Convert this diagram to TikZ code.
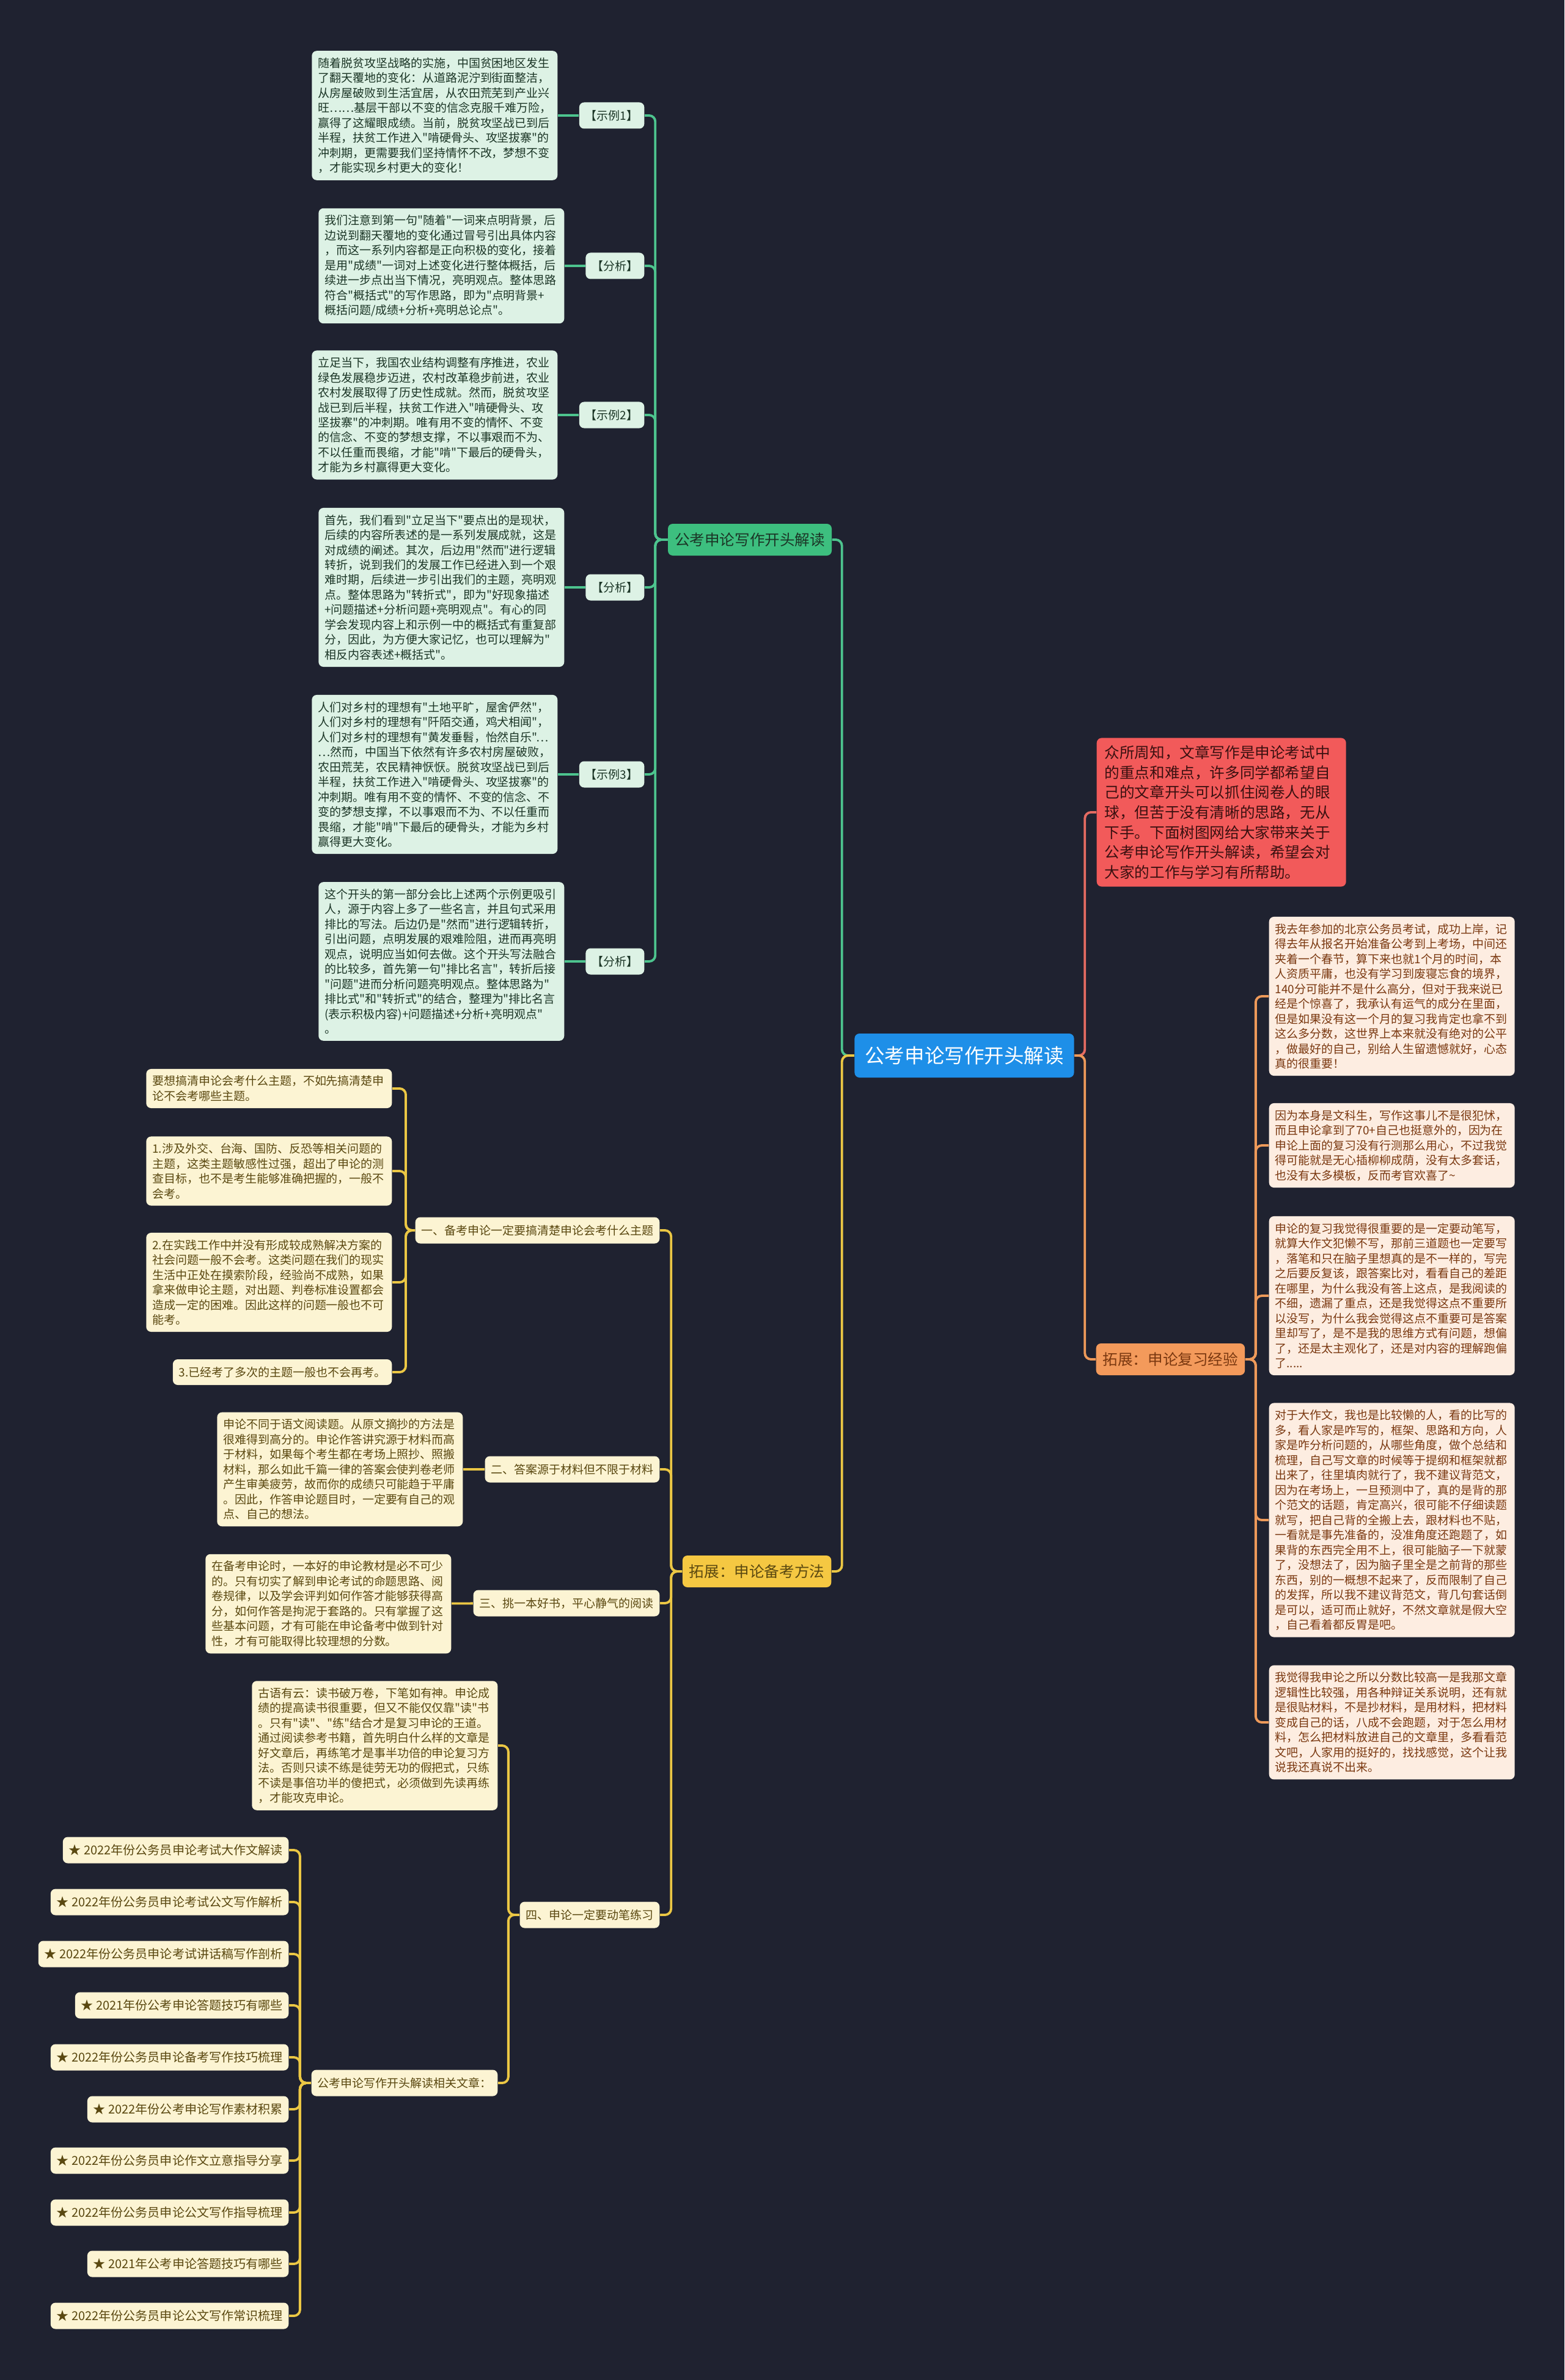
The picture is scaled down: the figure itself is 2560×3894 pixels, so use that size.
\documentclass[tikz,border=0pt]{standalone}
\usepackage{fontspec}
\newfontfamily\cjk{Noto Sans CJK SC}
\usepackage{tikz}
\usetikzlibrary{positioning}
\definecolor{bgnavy}{HTML}{1F2230}
\definecolor{rootblue}{HTML}{1E8FE8}
\definecolor{gfill}{HTML}{3DBF7F}
\definecolor{gline}{HTML}{4DC48E}
\definecolor{gleaffill}{HTML}{DDF2E5}
\definecolor{gink}{HTML}{1B3526}
\definecolor{rfill}{HTML}{F25A5A}
\definecolor{rline}{HTML}{E46B62}
\definecolor{rink}{HTML}{3A1010}
\definecolor{ofill}{HTML}{F39A5B}
\definecolor{oline}{HTML}{EE9A5A}
\definecolor{oleaffill}{HTML}{FDEDE1}
\definecolor{oink}{HTML}{7A3810}
\definecolor{yfill}{HTML}{F5C842}
\definecolor{yline}{HTML}{EBC744}
\definecolor{yleaffill}{HTML}{FCF4D3}
\definecolor{yink}{HTML}{5A4810}
\newcommand{\leaffont}{\cjk\fontsize{5.4pt}{6.97pt}\selectfont}
\newcommand{\itemfont}{\cjk\fontsize{5.7pt}{7pt}\selectfont}
\newcommand{\branchfont}{\cjk\fontsize{7pt}{9.3pt}\selectfont}
\newcommand{\rootfont}{\cjk\fontsize{9.25pt}{11pt}\selectfont}
\tikzset{
  base/.style={rounded corners=0.8mm,align=left,inner xsep=1mm,inner ysep=1.1mm},
  para/.style={base,text width=38.2mm,font=\leaffont},
  tagbox/.style={base,align=center,minimum height=4.3mm,inner ysep=0.5mm,font=\leaffont},
  rootbox/.style={base,align=center,fill=rootblue,text=white,font=\rootfont,
                  inner xsep=1.7mm,minimum height=7.2mm},
  branch/.style={base,align=center,font=\branchfont,minimum height=5.2mm,inner xsep=1.1mm},
  gleaf/.style={para,fill=gleaffill,text=gink},
  gtag/.style={tagbox,fill=gleaffill,text=gink},
  oleaf/.style={para,fill=oleaffill,text=oink},
  yleaf/.style={para,fill=yleaffill,text=yink},
  ytag/.style={tagbox,fill=yleaffill,text=yink},
  yitem/.style={ytag,font=\itemfont},
  intro/.style={base,fill=rfill,text=rink,text width=38.2mm,font=\branchfont,
                inner xsep=1.3mm,inner ysep=1.2mm},
  glink/.style={draw=gline,line width=1.1pt,rounded corners=1mm},
  rlink/.style={draw=rline,line width=1.1pt,rounded corners=1mm},
  olink/.style={draw=oline,line width=1.1pt,rounded corners=1mm},
  ylink/.style={draw=yline,line width=1.1pt,rounded corners=1mm}
}
\begin{document}
\begin{tikzpicture}[x=0.1mm,y=-0.1mm]
  \fill[bgnavy] (0,0) rectangle (2560,3894);
  \useasboundingbox (0,0) rectangle (2560,3894);

  \node[rootbox] (root) at (1578,1727) {公考申论写作开头解读};

  \node[branch,fill=gfill,text=gink] (open) at (1227,883) {公考申论写作开头解读};
  \node[intro,anchor=west] (intro) at (1794,1329) {众所周知，文章写作是申论考试中\\的重点和难点，许多同学都希望自\\己的文章开头可以抓住阅卷人的眼\\球，但苦于没有清晰的思路，无从\\下手。下面树图网给大家带来关于\\公考申论写作开头解读，希望会对\\大家的工作与学习有所帮助。};
  \node[branch,fill=ofill,text=oink,anchor=west] (review) at (1793,2224) {拓展：申论复习经验};
  \node[branch,fill=yfill,text=yink,anchor=east] (prep) at (1361,2571) {拓展：申论备考方法};

  \node[gtag,anchor=east] (ex1) at (1055,189) {【示例1】};
  \node[gtag,anchor=east] (an1) at (1055,435) {【分析】};
  \node[gtag,anchor=east] (ex2) at (1055,679) {【示例2】};
  \node[gtag,anchor=east] (an2) at (1055,961) {【分析】};
  \node[gtag,anchor=east] (ex3) at (1055,1267) {【示例3】};
  \node[gtag,anchor=east] (an3) at (1055,1573) {【分析】};

  \node[gleaf,anchor=east] (ex1txt) at (913,189) {随着脱贫攻坚战略的实施，中国贫困地区发生\\了翻天覆地的变化：从道路泥泞到街面整洁，\\从房屋破败到生活宜居，从农田荒芜到产业兴\\旺……基层干部以不变的信念克服千难万险，\\赢得了这耀眼成绩。当前，脱贫攻坚战已到后\\半程，扶贫工作进入"啃硬骨头、攻坚拔寨"的\\冲刺期，更需要我们坚持情怀不改，梦想不变\\，才能实现乡村更大的变化！};
  \node[gleaf,anchor=east] (an1txt) at (924,435) {我们注意到第一句"随着"一词来点明背景，后\\边说到翻天覆地的变化通过冒号引出具体内容\\，而这一系列内容都是正向积极的变化，接着\\是用"成绩"一词对上述变化进行整体概括，后\\续进一步点出当下情况，亮明观点。整体思路\\符合"概括式"的写作思路，即为"点明背景+\\概括问题/成绩+分析+亮明总论点"。};
  \node[gleaf,anchor=east] (ex2txt) at (913,679) {立足当下，我国农业结构调整有序推进，农业\\绿色发展稳步迈进，农村改革稳步前进，农业\\农村发展取得了历史性成就。然而，脱贫攻坚\\战已到后半程，扶贫工作进入"啃硬骨头、攻\\坚拔寨"的冲刺期。唯有用不变的情怀、不变\\的信念、不变的梦想支撑，不以事艰而不为、\\不以任重而畏缩，才能"啃"下最后的硬骨头，\\才能为乡村赢得更大变化。};
  \node[gleaf,anchor=east] (an2txt) at (924,961) {首先，我们看到"立足当下"要点出的是现状，\\后续的内容所表述的是一系列发展成就，这是\\对成绩的阐述。其次，后边用"然而"进行逻辑\\转折，说到我们的发展工作已经进入到一个艰\\难时期，后续进一步引出我们的主题，亮明观\\点。整体思路为"转折式"，即为"好现象描述\\+问题描述+分析问题+亮明观点"。有心的同\\学会发现内容上和示例一中的概括式有重复部\\分，因此，为方便大家记忆，也可以理解为"\\相反内容表述+概括式"。};
  \node[gleaf,anchor=east] (ex3txt) at (913,1267) {人们对乡村的理想有"土地平旷，屋舍俨然"，\\人们对乡村的理想有"阡陌交通，鸡犬相闻"，\\人们对乡村的理想有"黄发垂髫，怡然自乐"…\\…然而，中国当下依然有许多农村房屋破败，\\农田荒芜，农民精神恹恹。脱贫攻坚战已到后\\半程，扶贫工作进入"啃硬骨头、攻坚拔寨"的\\冲刺期。唯有用不变的情怀、不变的信念、不\\变的梦想支撑，不以事艰而不为、不以任重而\\畏缩，才能"啃"下最后的硬骨头，才能为乡村\\赢得更大变化。};
  \node[gleaf,anchor=east] (an3txt) at (924,1573) {这个开头的第一部分会比上述两个示例更吸引\\人，源于内容上多了一些名言，并且句式采用\\排比的写法。后边仍是"然而"进行逻辑转折，\\引出问题，点明发展的艰难险阻，进而再亮明\\观点，说明应当如何去做。这个开头写法融合\\的比较多，首先第一句"排比名言"，转折后接\\"问题"进而分析问题亮明观点。整体思路为"\\排比式"和"转折式"的结合，整理为"排比名言\\(表示积极内容)+问题描述+分析+亮明观点"\\。};

  \node[oleaf,anchor=west] (exp1) at (2076,1630) {我去年参加的北京公务员考试，成功上岸，记\\得去年从报名开始准备公考到上考场，中间还\\夹着一个春节，算下来也就1个月的时间，本\\人资质平庸，也没有学习到废寝忘食的境界，\\140分可能并不是什么高分，但对于我来说已\\经是个惊喜了，我承认有运气的成分在里面，\\但是如果没有这一个月的复习我肯定也拿不到\\这么多分数，这世界上本来就没有绝对的公平\\，做最好的自己，别给人生留遗憾就好，心态\\真的很重要！};
  \node[oleaf,anchor=west] (exp2) at (2076,1874) {因为本身是文科生，写作这事儿不是很犯怵，\\而且申论拿到了70+自己也挺意外的，因为在\\申论上面的复习没有行测那么用心，不过我觉\\得可能就是无心插柳柳成荫，没有太多套话，\\也没有太多模板，反而考官欢喜了\textasciitilde};
  \node[oleaf,anchor=west] (exp3) at (2076,2120) {申论的复习我觉得很重要的是一定要动笔写，\\就算大作文犯懒不写，那前三道题也一定要写\\，落笔和只在脑子里想真的是不一样的，写完\\之后要反复该，跟答案比对，看看自己的差距\\在哪里，为什么我没有答上这点，是我阅读的\\不细，遗漏了重点，还是我觉得这点不重要所\\以没写，为什么我会觉得这点不重要可是答案\\里却写了，是不是我的思维方式有问题，想偏\\了，还是太主观化了，还是对内容的理解跑偏\\了.....};
  \node[oleaf,anchor=west] (exp4) at (2076,2487) {对于大作文，我也是比较懒的人，看的比写的\\多，看人家是咋写的，框架、思路和方向，人\\家是咋分析问题的，从哪些角度，做个总结和\\梳理，自己写文章的时候等于提纲和框架就都\\出来了，往里填肉就行了，我不建议背范文，\\因为在考场上，一旦预测中了，真的是背的那\\个范文的话题，肯定高兴，很可能不仔细读题\\就写，把自己背的全搬上去，跟材料也不贴，\\一看就是事先准备的，没准角度还跑题了，如\\果背的东西完全用不上，很可能脑子一下就蒙\\了，没想法了，因为脑子里全是之前背的那些\\东西，别的一概想不起来了，反而限制了自己\\的发挥，所以我不建议背范文，背几句套话倒\\是可以，适可而止就好，不然文章就是假大空\\，自己看着都反胃是吧。};
  \node[oleaf,anchor=west] (exp5) at (2076,2818) {我觉得我申论之所以分数比较高一是我那文章\\逻辑性比较强，用各种辩证关系说明，还有就\\是很贴材料，不是抄材料，是用材料，把材料\\变成自己的话，八成不会跑题，对于怎么用材\\料，怎么把材料放进自己的文章里，多看看范\\文吧，人家用的挺好的，找找感觉，这个让我\\说我还真说不出来。};

  \node[ytag,anchor=east] (topic1) at (1080,2013) {一、备考申论一定要搞清楚申论会考什么主题};
  \node[ytag,anchor=east] (topic2) at (1080,2404) {二、答案源于材料但不限于材料};
  \node[ytag,anchor=east] (topic3) at (1080,2623) {三、挑一本好书，平心静气的阅读};
  \node[ytag,anchor=east] (topic4) at (1080,3133) {四、申论一定要动笔练习};

  \node[yleaf,anchor=east] (t1a) at (642,1781) {要想搞清申论会考什么主题，不如先搞清楚申\\论不会考哪些主题。};
  \node[yleaf,anchor=east] (t1b) at (642,1916) {1.涉及外交、台海、国防、反恐等相关问题的\\主题，这类主题敏感性过强，超出了申论的测\\查目标，也不是考生能够准确把握的，一般不\\会考。};
  \node[yleaf,anchor=east] (t1c) at (642,2098) {2.在实践工作中并没有形成较成熟解决方案的\\社会问题一般不会考。这类问题在我们的现实\\生活中正处在摸索阶段，经验尚不成熟，如果\\拿来做申论主题，对出题、判卷标准设置都会\\造成一定的困难。因此这样的问题一般也不可\\能考。};
  \node[ytag,anchor=east,minimum height=4.2mm] (t1d) at (642,2245) {3.已经考了多次的主题一般也不会再考。};
  \node[yleaf,anchor=east] (t2a) at (758,2404) {申论不同于语文阅读题。从原文摘抄的方法是\\很难得到高分的。申论作答讲究源于材料而高\\于材料，如果每个考生都在考场上照抄、照搬\\材料，那么如此千篇一律的答案会使判卷老师\\产生审美疲劳，故而你的成绩只可能趋于平庸\\。因此，作答申论题目时，一定要有自己的观\\点、自己的想法。};
  \node[yleaf,anchor=east] (t3a) at (739,2624) {在备考申论时，一本好的申论教材是必不可少\\的。只有切实了解到申论考试的命题思路、阅\\卷规律，以及学会评判如何作答才能够获得高\\分，如何作答是拘泥于套路的。只有掌握了这\\些基本问题，才有可能在申论备考中做到针对\\性，才有可能取得比较理想的分数。};
  \node[yleaf,anchor=east] (t4a) at (815,2856) {古语有云：读书破万卷，下笔如有神。申论成\\绩的提高读书很重要，但又不能仅仅靠"读"书\\。只有"读"、"练"结合才是复习申论的王道。\\通过阅读参考书籍，首先明白什么样的文章是\\好文章后，再练笔才是事半功倍的申论复习方\\法。否则只读不练是徒劳无功的假把式，只练\\不读是事倍功半的傻把式，必须做到先读再练\\，才能攻克申论。};
  \node[ytag,anchor=east] (related) at (815,3408) {公考申论写作开头解读相关文章：};

  \foreach \i/\y/\t in {1/3027/2022年份公务员申论考试大作文解读,
                        2/3112/2022年份公务员申论考试公文写作解析,
                        3/3197/2022年份公务员申论考试讲话稿写作剖析,
                        4/3281/2021年份公考申论答题技巧有哪些,
                        5/3366/2022年份公务员申论备考写作技巧梳理,
                        6/3451/2022年份公考申论写作素材积累,
                        7/3535/2022年份公务员申论作文立意指导分享,
                        8/3620/2022年份公务员申论公文写作指导梳理,
                        9/3704/2021年公考申论答题技巧有哪些,
                        10/3789/2022年份公务员申论公文写作常识梳理}{
    \node[yitem,anchor=east] (art\i) at (473,\y) {★ \t};
    \draw[ylink] (related.west) -- ++(-18,0) |- (art\i.east);
  }

  \draw[glink] (root.west) -- ++(-20,0) |- (open.east);
  \draw[rlink] (root.east) -- ++(17,0) |- (intro.west);
  \draw[olink] (root.east) -- ++(17,0) |- (review.west);
  \draw[ylink] (root.west) -- ++(-20,0) |- (prep.east);

  \draw[glink] (open.west) -- ++(-20,0) |- (ex1.east);
  \draw[glink] (open.west) -- ++(-20,0) |- (an1.east);
  \draw[glink] (open.west) -- ++(-20,0) |- (ex2.east);
  \draw[glink] (open.west) -- ++(-20,0) |- (an2.east);
  \draw[glink] (open.west) -- ++(-20,0) |- (ex3.east);
  \draw[glink] (open.west) -- ++(-20,0) |- (an3.east);
  \draw[glink] (ex1) -- (ex1txt); \draw[glink] (an1) -- (an1txt);
  \draw[glink] (ex2) -- (ex2txt); \draw[glink] (an2) -- (an2txt);
  \draw[glink] (ex3) -- (ex3txt); \draw[glink] (an3) -- (an3txt);

  \draw[olink] (review.east) -- ++(17,0) |- (exp1.west);
  \draw[olink] (review.east) -- ++(17,0) |- (exp2.west);
  \draw[olink] (review.east) -- ++(17,0) |- (exp3.west);
  \draw[olink] (review.east) -- ++(17,0) |- (exp4.west);
  \draw[olink] (review.east) -- ++(17,0) |- (exp5.west);

  \draw[ylink] (prep.west) -- ++(-18,0) |- (topic1.east);
  \draw[ylink] (prep.west) -- ++(-18,0) |- (topic2.east);
  \draw[ylink] (prep.west) -- ++(-18,0) |- (topic3.east);
  \draw[ylink] (prep.west) -- ++(-18,0) |- (topic4.east);
  \draw[ylink] (topic1.west) -- ++(-15,0) |- (t1a.east);
  \draw[ylink] (topic1.west) -- ++(-15,0) |- (t1b.east);
  \draw[ylink] (topic1.west) -- ++(-15,0) |- (t1c.east);
  \draw[ylink] (topic1.west) -- ++(-15,0) |- (t1d.east);
  \draw[ylink] (topic2) -- (t2a);
  \draw[ylink] (topic3) -- (t3a);
  \draw[ylink] (topic4.west) -- ++(-18,0) |- (t4a.east);
  \draw[ylink] (topic4.west) -- ++(-18,0) |- (related.east);
\end{tikzpicture}
\end{document}
